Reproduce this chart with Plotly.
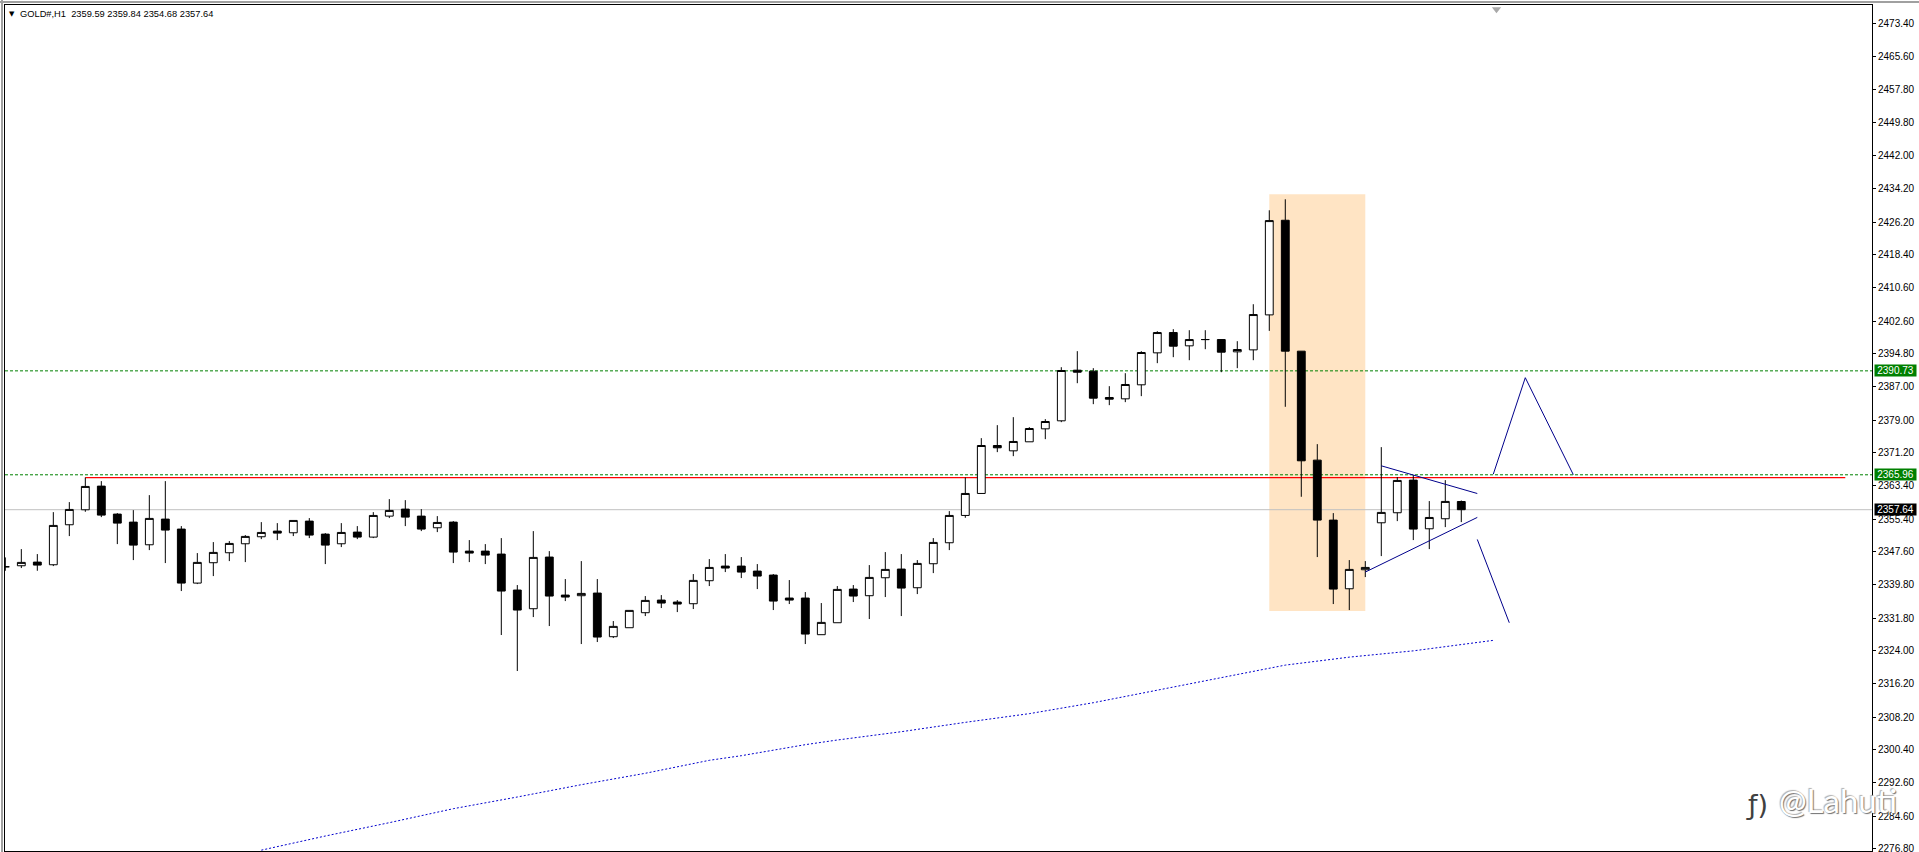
import plotly.graph_objects as go

# --- H1 candles, left to right ---
open_ = [2344.04, 2344.28, 2345.15, 2344.52, 2354.05, 2357.62, 2363.26, 2356.59, 2354.68, 2349.28,
         2355.40, 2353.02, 2340.15, 2345.00, 2347.38, 2349.52, 2351.19, 2352.54, 2352.14, 2354.92,
         2351.82, 2349.52, 2352.30, 2351.11, 2356.11, 2357.78, 2356.11, 2353.33, 2354.68, 2347.77,
         2347.77, 2347.06, 2338.49, 2334.04, 2346.35, 2337.29, 2337.14, 2337.77, 2327.37, 2329.51,
         2333.09, 2336.10, 2335.63, 2335.23, 2340.71, 2344.20, 2344.20, 2343.01, 2342.06, 2336.58,
         2336.58, 2327.85, 2330.70, 2338.72, 2337.14, 2341.42, 2343.49, 2339.04, 2344.76, 2349.76,
         2356.27, 2361.51, 2372.94, 2371.67, 2373.82, 2376.91, 2378.82, 2390.89, 2390.65, 2384.38,
         2384.06, 2387.40, 2395.02, 2399.86, 2396.69, 2398.19, 2398.19, 2395.26, 2395.73, 2404.07,
         2426.62, 2395.42, 2369.45, 2355.16, 2338.80, 2343.33, 2354.52, 2356.91, 2364.69, 2353.09,
         2355.48, 2359.59]
high = [2346.27, 2348.25, 2347.06, 2357.06, 2359.45, 2365.32, 2364.45, 2356.83, 2357.54, 2361.11,
        2364.45, 2353.73, 2347.30, 2349.92, 2350.16, 2351.59, 2354.68, 2354.44, 2355.08, 2355.64,
        2352.06, 2354.44, 2353.73, 2357.06, 2360.16, 2359.92, 2357.78, 2356.11, 2354.92, 2350.40,
        2349.44, 2350.87, 2339.68, 2352.54, 2347.77, 2341.11, 2345.39, 2341.11, 2331.10, 2333.64,
        2337.06, 2337.29, 2336.10, 2342.30, 2345.87, 2347.06, 2346.35, 2344.68, 2342.30, 2340.87,
        2338.01, 2335.39, 2339.44, 2339.68, 2344.44, 2347.54, 2347.06, 2345.63, 2350.87, 2357.30,
        2365.32, 2374.69, 2377.79, 2379.69, 2377.31, 2379.22, 2391.60, 2395.42, 2391.37, 2387.08,
        2390.17, 2395.42, 2400.18, 2400.66, 2400.42, 2400.42, 2398.19, 2397.80, 2406.61, 2429.00,
        2431.62, 2395.42, 2373.26, 2356.83, 2345.63, 2345.39, 2372.55, 2365.40, 2365.88, 2359.69,
        2364.69, 2359.84]
low = [2343.09, 2343.73, 2343.09, 2344.20, 2351.35, 2357.14, 2355.87, 2349.44, 2345.63, 2348.01,
       2344.92, 2338.25, 2339.91, 2341.82, 2345.39, 2345.15, 2350.63, 2350.40, 2351.35, 2350.87,
       2344.68, 2348.73, 2350.63, 2350.87, 2355.64, 2353.73, 2352.54, 2352.30, 2344.92, 2345.15,
       2344.68, 2327.77, 2319.19, 2332.05, 2329.91, 2335.86, 2325.62, 2326.10, 2327.05, 2329.51,
       2332.29, 2334.20, 2333.24, 2333.96, 2339.44, 2342.77, 2341.34, 2338.72, 2333.72, 2335.15,
       2325.62, 2327.85, 2330.70, 2335.63, 2331.58, 2336.82, 2332.29, 2337.53, 2342.53, 2348.01,
       2355.71, 2361.51, 2371.36, 2370.40, 2373.82, 2374.45, 2378.50, 2387.79, 2382.79, 2382.55,
       2383.27, 2384.70, 2392.56, 2393.99, 2393.27, 2395.89, 2390.41, 2391.37, 2393.27, 2400.26,
       2382.16, 2360.72, 2346.35, 2335.15, 2333.72, 2341.58, 2346.58, 2354.92, 2350.40, 2348.25,
       2353.49, 2354.68]
close = [2344.04, 2345.08, 2344.44, 2353.89, 2357.70, 2363.18, 2356.35, 2354.44, 2349.20, 2355.56,
         2352.78, 2340.15, 2345.08, 2347.46, 2349.60, 2351.27, 2352.22, 2352.06, 2355.08, 2351.59,
         2349.20, 2352.22, 2351.11, 2356.27, 2357.46, 2355.87, 2353.02, 2354.60, 2347.54, 2347.30,
         2346.82, 2338.25, 2333.72, 2346.27, 2337.06, 2336.82, 2337.69, 2327.29, 2329.83, 2333.64,
         2336.02, 2335.39, 2335.15, 2340.79, 2343.88, 2343.73, 2342.77, 2341.82, 2335.86, 2336.10,
         2328.00, 2330.78, 2338.64, 2337.06, 2341.50, 2343.41, 2338.96, 2344.84, 2349.84, 2356.27,
         2361.51, 2372.94, 2372.39, 2373.90, 2376.99, 2378.66, 2390.81, 2390.41, 2384.22, 2383.98,
         2387.48, 2395.10, 2399.86, 2396.61, 2398.19, 2398.19, 2395.18, 2395.81, 2404.15, 2426.54,
         2395.42, 2369.29, 2355.16, 2338.72, 2343.41, 2343.88, 2356.99, 2364.61, 2353.02, 2355.79,
         2359.61, 2357.64]
bar_index = list(range(len(close)))

# --- moving average (dotted blue) ---
ma_index = [16, 20, 24, 28, 32, 36, 40, 44, 46, 50, 52, 56, 60, 64, 68, 72, 76, 80, 84, 88, 93]
ma_value = [2276.5, 2279.87, 2283.05, 2286.38, 2289.17, 2292.10, 2294.82, 2297.91, 2299.01, 2301.64,
            2302.75, 2304.73, 2306.96, 2309.03, 2311.64, 2314.67, 2317.69, 2320.6, 2322.5, 2324.0, 2326.5]

# --- price axis labels ---
tick_labels = ["2473.40", "2465.60", "2457.80", "2449.80", "2442.00", "2434.20", "2426.20", "2418.40",
               "2410.60", "2402.60", "2394.80", "2387.00", "2379.00", "2371.20", "2363.40", "2355.40",
               "2347.60", "2339.80", "2331.80", "2324.00", "2316.20", "2308.20", "2300.40", "2292.60",
               "2284.60", "2276.80"]
tick_values = [float(t) for t in tick_labels]

# --- drawn objects (bar index, price) ---
x_view = [-0.02, 116.67]
y_view = [2276.30, 2477.92]
level_green_high = 2390.73
level_green_low = 2365.96
level_last = 2357.64
red_x, red_y = [5, 115], [2365.3, 2365.3]
rect_x, rect_y = [79, 85], [2333.5, 2432.8]
tri_top_x, tri_top_y = [86, 92], [2368.1, 2361.5]
tri_bot_x, tri_bot_y = [85, 92], [2342.77, 2355.8]
up_x, up_y = [93, 95, 98], [2366.1, 2389.1, 2366.0]
down_x, down_y = [92, 94], [2350.55, 2330.7]

title_text = "GOLD#,H1&nbsp;&nbsp;2359.59 2359.84 2354.68 2357.64"
mark_font = "Liberation Sans"
NAVY = "#00008B"

fig = go.Figure()
fig.add_trace(go.Candlestick(
    x=bar_index, open=open_, high=high, low=low, close=close,
    increasing=dict(fillcolor="#FFFFFF", line=dict(color="#000000", width=1)),
    decreasing=dict(fillcolor="#000000", line=dict(color="#000000", width=1)),
    whiskerwidth=0, showlegend=False, hoverinfo="skip",
))
fig.add_trace(go.Scatter(x=ma_index, y=ma_value, mode="lines", showlegend=False, hoverinfo="skip",
                         line=dict(color="#0000CD", width=1, dash="2px,2px")))
for xs, ys in [(tri_top_x, tri_top_y), (tri_bot_x, tri_bot_y), (up_x, up_y), (down_x, down_y)]:
    fig.add_trace(go.Scatter(x=xs, y=ys, mode="lines", showlegend=False, hoverinfo="skip",
                             line=dict(color=NAVY, width=1)))
fig.add_trace(go.Scatter(x=[93.2], y=[2476.9], mode="markers", showlegend=False, hoverinfo="skip",
                         cliponaxis=False,
                         marker=dict(symbol="triangle-down", size=8, color="#A8A8A8")))


def level_line(value, color, dash="solid"):
    return dict(type="line", layer="below", xref="x", yref="y", x0=x_view[0], x1=x_view[1],
                y0=value, y1=value, line=dict(color=color, width=1, dash=dash))


shapes = [
    dict(type="rect", layer="below", xref="x", yref="y", x0=rect_x[0], x1=rect_x[1],
         y0=rect_y[0], y1=rect_y[1], fillcolor="#FFE4C4", line=dict(width=0)),
    level_line(level_last, "#C0C0C0"),
    dict(type="line", layer="below", xref="x", yref="y", x0=red_x[0], x1=red_x[1], y0=red_y[0], y1=red_y[1],
         line=dict(color="#FF0000", width=1.3)),
    level_line(level_green_high, "#008000", "3px,2px"),
    level_line(level_green_low, "#008000", "3px,2px"),
    # window frame around the chart
    dict(type="rect", xref="paper", yref="paper", xsizemode="pixel", xanchor=0, x0=-4, x1=-2, y0=-0.01, y1=1.01,
         fillcolor="#A0A0A0", line=dict(width=0)),
    dict(type="rect", xref="paper", yref="paper", ysizemode="pixel", yanchor=1, y0=2, y1=4, x0=-0.01, x1=1.03,
         fillcolor="#A0A0A0", line=dict(width=0)),
]


def price_tag(value, text, bg):
    return dict(xref="paper", yref="y", x=1, y=value, xanchor="left", yanchor="middle", xshift=2,
                text=text, showarrow=False, bgcolor=bg, borderpad=0, width=41, height=11, align="center",
                font=dict(family=mark_font, size=10, color="#FFFFFF"))


annotations = [
    price_tag(level_green_high, "2390.73", "#008000"),
    price_tag(level_green_low, "2365.96", "#008000"),
    price_tag(level_last, "2357.64", "#000000"),
    dict(xref="paper", yref="paper", x=0, y=1, xanchor="left", yanchor="top", xshift=2, yshift=-3,
         text="▼", showarrow=False, font=dict(family="DejaVu Sans", size=7, color="#000000")),
    dict(xref="paper", yref="paper", x=0, y=1, xanchor="left", yanchor="top", xshift=13, yshift=-2,
         text=title_text, showarrow=False, font=dict(family=mark_font, size=9.3, color="#000000")),
    dict(xref="paper", yref="paper", x=1, y=0, xanchor="right", yanchor="bottom", xshift=27, yshift=29,
         text="@Lahuti", showarrow=False,
         font=dict(family="Lato", size=33, color="#FFFFFF",
                   shadow="1px 1px 1px #707070, -1px -1px 1px #b0b0b0")),
    dict(xref="paper", yref="paper", x=1, y=0, xanchor="right", yanchor="bottom", xshift=-102, yshift=29,
         text="ƒ)", showarrow=False, font=dict(family="DejaVu Sans", size=27, color="#404040")),
]

fig.update_layout(
    width=1919, height=852, autosize=False,
    margin=dict(l=5, r=47, t=5, b=1, pad=0, autoexpand=False),
    paper_bgcolor="#FFFFFF", plot_bgcolor="#FFFFFF",
    showlegend=False, hovermode=False, dragmode=False,
    boxgap=0.3,
    shapes=shapes, annotations=annotations,
    xaxis=dict(range=x_view, showticklabels=False, ticks="", showgrid=False, zeroline=False,
               rangeslider=dict(visible=False), showline=True, linecolor="#000000", linewidth=1, mirror=True),
    yaxis=dict(range=y_view, side="right", tickmode="array", tickvals=tick_values, ticktext=tick_labels,
               ticks="outside", ticklen=3, tickwidth=1, tickcolor="#000000", showgrid=False, zeroline=False,
               showline=True, linecolor="#000000", linewidth=1, mirror=True, ticklabeloverflow="allow",
               tickfont=dict(family=mark_font, size=10, color="#000000")),
)
fig.write_html("out.html", config=dict(displayModeBar=False),
               post_script="document.body.style.margin='0';document.body.style.overflow='hidden';")
